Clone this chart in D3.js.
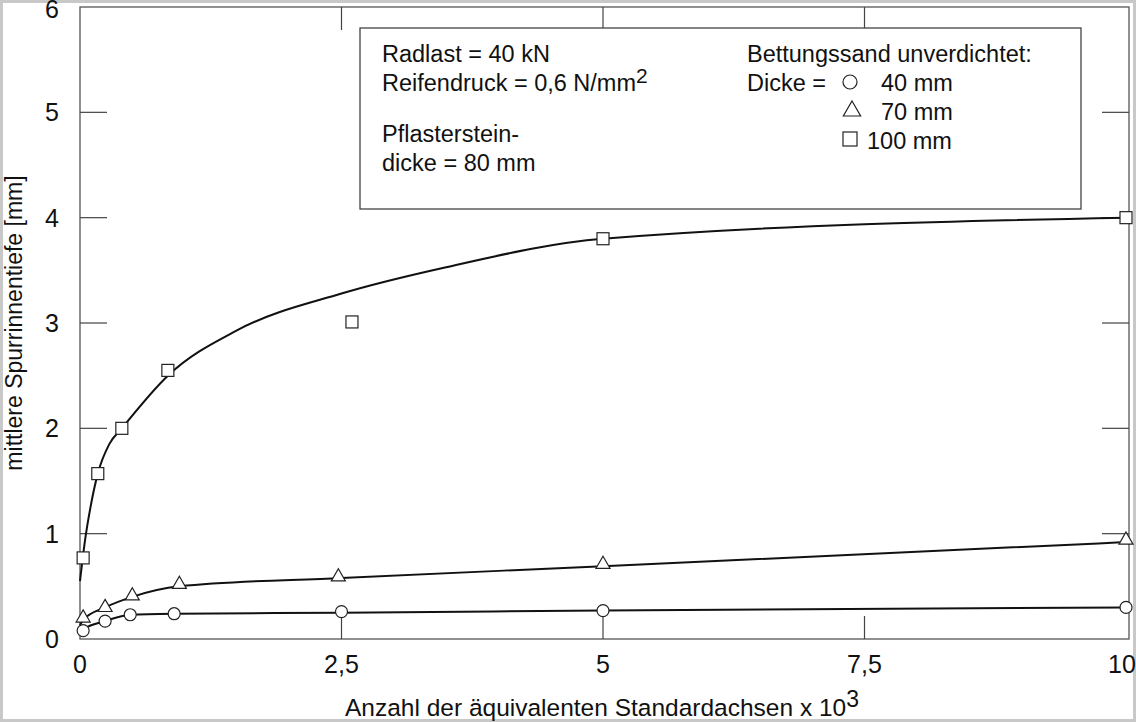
<!DOCTYPE html>
<html><head><meta charset="utf-8">
<script src="https://cdn.jsdelivr.net/npm/d3@7/dist/d3.min.js"></script>
<style>body{margin:0;background:#fff}svg{display:block;font-family:"Liberation Sans",Arial,sans-serif}</style>
</head><body><svg id="c" width="1136" height="722"></svg>
<script>
const xTicks = [0, 2.5, 5, 7.5, 10];
const xTickLabels = ["0", "2,5", "5", "7,5", "10"];
const yTicks = [0, 1, 2, 3, 4, 5, 6];
// measured points
const sqX = [0.03, 0.17, 0.4, 0.84, 2.6, 5, 10];
const sqY = [0.77, 1.57, 2.0, 2.55, 3.01, 3.8, 4.0];
const trX = [0.03, 0.24, 0.5, 0.95, 2.47, 5, 10];
const trY = [0.19, 0.29, 0.4, 0.51, 0.58, 0.7, 0.93];
const ciX = [0.03, 0.24, 0.48, 0.9, 2.5, 5, 10];
const ciY = [0.08, 0.17, 0.23, 0.24, 0.26, 0.27, 0.3];
// fitted curves
const sqCurveX = [0, 0.05, 0.1, 0.17, 0.28, 0.4, 0.84, 1.5, 2.5, 3.5, 5, 10];
const sqCurveY = [0.55, 0.95, 1.25, 1.57, 1.85, 2.0, 2.5, 2.93, 3.28, 3.53, 3.8, 4.0];
const trCurveX = [0, 0.03, 0.24, 0.5, 0.95, 2.5, 5, 10];
const trCurveY = [0.13, 0.18, 0.3, 0.4, 0.5, 0.58, 0.69, 0.92];
const ciCurveX = [0, 0.03, 0.24, 0.48, 0.9, 2.5, 5, 10];
const ciCurveY = [0.06, 0.09, 0.17, 0.23, 0.24, 0.25, 0.27, 0.3];

const svg = d3.select("#c");
const L = 80, R = 1129, T = 7, B = 639;
const x = d3.scaleLinear().domain([0, 10]).range([80, 1126]);
const y = d3.scaleLinear().domain([0, 6]).range([B, T]);

svg.append("rect").attr("x",1.5).attr("y",1.5).attr("width",1133).attr("height",719)
  .attr("fill","none").attr("stroke","#c8c8c8").attr("stroke-width",3);
svg.append("rect").attr("x",L).attr("y",T).attr("width",R-L).attr("height",B-T)
  .attr("fill","none").attr("stroke","#555").attr("stroke-width",1.3);

const tk = svg.append("g").attr("stroke","#444").attr("stroke-width",1.2);
xTicks.slice(1,-1).forEach(t=>{
  tk.append("line").attr("x1",x(t)).attr("x2",x(t)).attr("y1",B).attr("y2",B-23);
  tk.append("line").attr("x1",x(t)).attr("x2",x(t)).attr("y1",T).attr("y2",T+23);
});
yTicks.slice(1,-1).forEach(t=>{
  tk.append("line").attr("x1",L).attr("x2",L+27).attr("y1",y(t)).attr("y2",y(t));
  tk.append("line").attr("x1",R).attr("x2",R-27).attr("y1",y(t)).attr("y2",y(t));
});
xTicks.forEach((t,i)=>svg.append("text").attr("x",i==4?1122:x(t)).attr("y",673)
  .attr("text-anchor","middle").attr("font-size",25).attr("fill","#111").text(xTickLabels[i]));
yTicks.forEach(t=>svg.append("text").attr("x",52).attr("y",t==6?18:y(t)+9)
  .attr("text-anchor","middle").attr("font-size",25).attr("fill","#111").text(t));

const xl = svg.append("text").attr("x",602).attr("y",716).attr("text-anchor","middle")
  .attr("font-size",24.5).attr("fill","#111").text("Anzahl der äquivalenten Standardachsen x 10");
xl.append("tspan").attr("dy",-9).attr("font-size",23).text("3");
svg.append("text").attr("transform","translate(22,323) rotate(-90)").attr("text-anchor","middle")
  .attr("font-size",23).attr("fill","#111").text("mittlere Spurrinnentiefe [mm]");

const line = d3.line().x(d=>x(d[0])).y(d=>y(d[1])).curve(d3.curveMonotoneX);
[[sqCurveX,sqCurveY],[trCurveX,trCurveY],[ciCurveX,ciCurveY]].forEach(([a,b])=>{
  svg.append("path").attr("d",line(d3.zip(a,b))).attr("fill","none").attr("stroke","#111").attr("stroke-width",2);
});
const mk = svg.append("g").attr("fill","#fff").attr("stroke","#222").attr("stroke-width",1.2);
d3.zip(sqX,sqY).forEach(([a,b])=>mk.append("rect").attr("x",x(a)-6).attr("y",y(b)-6).attr("width",12).attr("height",12));
const tri = d3.symbol().type(d3.symbolTriangle).size(85);
d3.zip(trX,trY).forEach(([a,b])=>mk.append("path").attr("d",tri()).attr("transform",`translate(${x(a)},${y(b)-1})`));
d3.zip(ciX,ciY).forEach(([a,b])=>mk.append("circle").attr("cx",x(a)).attr("cy",y(b)).attr("r",6));

// legend box
svg.append("rect").attr("x",360).attr("y",28).attr("width",721).attr("height",181)
  .attr("fill","#fff").attr("stroke","#444").attr("stroke-width",1.3);
const lt = (tx,ty,s)=>svg.append("text").attr("x",tx).attr("y",ty).attr("font-size",23.5).attr("fill","#111").text(s);
lt(382,62,"Radlast = 40 kN");
const rd = lt(382,91,"Reifendruck = 0,6 N/mm");
rd.append("tspan").attr("dy",-8).attr("font-size",21).text("2");
lt(382,142,"Pflasterstein-");
lt(382,171,"dicke = 80 mm");
lt(747,62,"Bettungssand unverdichtet:");
lt(747,91,"Dicke =");
lt(881,91,"40 mm"); lt(881,120,"70 mm"); lt(867,149,"100 mm");
const lg = svg.append("g").attr("fill","#fff").attr("stroke","#222").attr("stroke-width",1.2);
lg.append("circle").attr("cx",850).attr("cy",82).attr("r",7);
lg.append("path").attr("d",d3.symbol().type(d3.symbolTriangle).size(130)()).attr("transform","translate(852,111)");
lg.append("rect").attr("x",843).attr("y",132).attr("width",14).attr("height",14);
</script></body></html>
